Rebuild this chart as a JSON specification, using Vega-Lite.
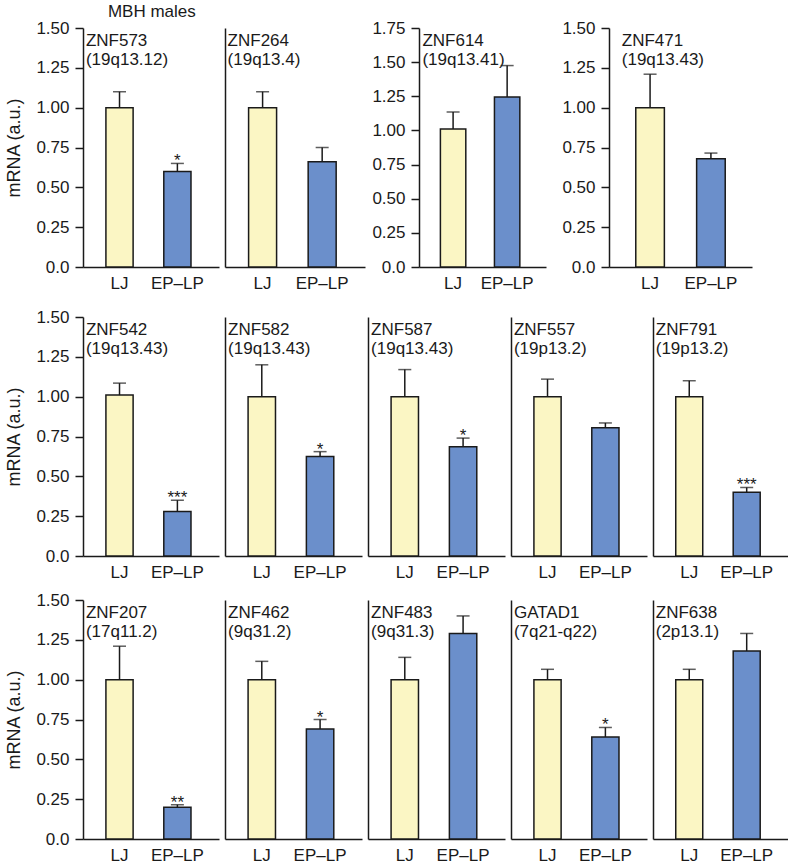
{
  "$schema": "https://vega.github.io/schema/vega-lite/v6.json",
  "padding": {"left": 5, "top": 3, "right": 0, "bottom": 0},
  "title": {"text": "MBH males", "anchor": "start", "frame": "bounds", "dx": 102, "fontSize": 17, "fontWeight": "normal", "offset": -2, "color": "#1a1a1a", "baseline": "top"},
  "config": {
    "font": "Liberation Sans",
    "view": {"stroke": null},
    "axis": {"domainColor": "#1a1a1a", "domainWidth": 1.5, "tickColor": "#1a1a1a", "tickWidth": 1.5, "labelFontSize": 17, "labelColor": "#1a1a1a", "labelOverlap": false, "titleFontSize": 18, "titleFontWeight": "normal", "titleColor": "#1a1a1a", "grid": false},
    "axisX": {"ticks": false, "labelPadding": 8, "labelAngle": 0, "title": null},
    "axisY": {"tickSize": 8, "labelPadding": 6, "titlePadding": 12},
    "text": {"fontSize": 17, "color": "#1a1a1a"}
  },
  "datasets": {
    "zn": [
      {"gene": "ZNF573", "group": "LJ", "mean": 1.00, "upper": 1.10, "sig": ""},
      {"gene": "ZNF573", "group": "EP–LP", "mean": 0.60, "upper": 0.65, "sig": "*"},
      {"gene": "ZNF264", "group": "LJ", "mean": 1.00, "upper": 1.10, "sig": ""},
      {"gene": "ZNF264", "group": "EP–LP", "mean": 0.66, "upper": 0.75, "sig": ""},
      {"gene": "ZNF614", "group": "LJ", "mean": 1.01, "upper": 1.135, "sig": ""},
      {"gene": "ZNF614", "group": "EP–LP", "mean": 1.245, "upper": 1.475, "sig": ""},
      {"gene": "ZNF471", "group": "LJ", "mean": 1.00, "upper": 1.21, "sig": ""},
      {"gene": "ZNF471", "group": "EP–LP", "mean": 0.68, "upper": 0.715, "sig": ""},
      {"gene": "ZNF542", "group": "LJ", "mean": 1.01, "upper": 1.085, "sig": ""},
      {"gene": "ZNF542", "group": "EP–LP", "mean": 0.28, "upper": 0.35, "sig": "***"},
      {"gene": "ZNF582", "group": "LJ", "mean": 1.00, "upper": 1.20, "sig": ""},
      {"gene": "ZNF582", "group": "EP–LP", "mean": 0.625, "upper": 0.655, "sig": "*"},
      {"gene": "ZNF587", "group": "LJ", "mean": 1.00, "upper": 1.17, "sig": ""},
      {"gene": "ZNF587", "group": "EP–LP", "mean": 0.685, "upper": 0.74, "sig": "*"},
      {"gene": "ZNF557", "group": "LJ", "mean": 1.00, "upper": 1.11, "sig": ""},
      {"gene": "ZNF557", "group": "EP–LP", "mean": 0.805, "upper": 0.835, "sig": ""},
      {"gene": "ZNF791", "group": "LJ", "mean": 1.00, "upper": 1.10, "sig": ""},
      {"gene": "ZNF791", "group": "EP–LP", "mean": 0.40, "upper": 0.43, "sig": "***"},
      {"gene": "ZNF207", "group": "LJ", "mean": 1.00, "upper": 1.21, "sig": ""},
      {"gene": "ZNF207", "group": "EP–LP", "mean": 0.20, "upper": 0.215, "sig": "**"},
      {"gene": "ZNF462", "group": "LJ", "mean": 1.00, "upper": 1.115, "sig": ""},
      {"gene": "ZNF462", "group": "EP–LP", "mean": 0.69, "upper": 0.75, "sig": "*"},
      {"gene": "ZNF483", "group": "LJ", "mean": 1.00, "upper": 1.14, "sig": ""},
      {"gene": "ZNF483", "group": "EP–LP", "mean": 1.29, "upper": 1.40, "sig": ""},
      {"gene": "GATAD1", "group": "LJ", "mean": 1.00, "upper": 1.065, "sig": ""},
      {"gene": "GATAD1", "group": "EP–LP", "mean": 0.64, "upper": 0.70, "sig": "*"},
      {"gene": "ZNF638", "group": "LJ", "mean": 1.00, "upper": 1.065, "sig": ""},
      {"gene": "ZNF638", "group": "EP–LP", "mean": 1.18, "upper": 1.29, "sig": ""}
    ]
  },
  "spacing": 17,
  "vconcat": [
    {
      "spacing": 15,
      "hconcat": [
        {
          "spacing": 6,
          "hconcat": [
            {
              "width": 136, "height": 239,
              "data": {"name": "zn"},
              "transform": [{"filter": "datum.gene === 'ZNF573'"}],
              "encoding": {"x": {"field": "group", "type": "nominal", "sort": ["LJ", "EP–LP"], "scale": {"paddingInner": 0.53, "paddingOuter": 0.44, "align": 0.45}}},
              "layer": [
                {"mark": {"type": "bar", "stroke": "#1a1a1a", "strokeWidth": 1.5}, "encoding": {"y": {"field": "mean", "type": "quantitative", "title": "mRNA (a.u.)", "scale": {"domain": [0, 1.5], "nice": false}, "axis": {"values": [0, 0.25, 0.5, 0.75, 1, 1.25, 1.5], "tickCount": 10, "labelOverlap": false, "labelExpr": "datum.value === 0 ? '0.0' : format(datum.value, '.2f')", "title": "mRNA (a.u.)", "titleFontSize": 18}}, "fill": {"field": "group", "type": "nominal", "scale": {"domain": ["LJ", "EP–LP"], "range": ["#FBF6C4", "#6B8FCB"]}, "legend": null}}},
                {"mark": {"type": "rule", "strokeWidth": 1.5, "color": "#1a1a1a"}, "encoding": {"y": {"field": "mean", "type": "quantitative", "title": "mRNA (a.u.)"}, "y2": {"field": "upper"}}},
                {"mark": {"type": "tick", "size": 13, "thickness": 1.5, "color": "#1a1a1a"}, "encoding": {"y": {"field": "upper", "type": "quantitative", "title": "mRNA (a.u.)"}}},
                {"mark": {"type": "text", "baseline": "alphabetic", "dy": 3}, "encoding": {"y": {"field": "upper", "type": "quantitative", "title": "mRNA (a.u.)"}, "text": {"field": "sig"}}},
                {"transform": [{"filter": "datum.group === 'LJ'"}], "mark": {"type": "text", "text": ["ZNF573", "(19q13.12)"], "align": "left", "baseline": "top", "lineHeight": 19, "dx": -20, "dy": 5}, "encoding": {"x": {"datum": "LJ", "bandPosition": 0}, "y": {"datum": 1.5, "type": "quantitative", "title": "mRNA (a.u.)"}}}
              ]
            },
            {
              "width": 140, "height": 239,
              "data": {"name": "zn"},
              "transform": [{"filter": "datum.gene === 'ZNF264'"}],
              "encoding": {"x": {"field": "group", "type": "nominal", "sort": ["LJ", "EP–LP"], "scale": {"paddingInner": 0.53, "paddingOuter": 0.44, "align": 0.45}}},
              "layer": [
                {"mark": {"type": "bar", "stroke": "#1a1a1a", "strokeWidth": 1.5}, "encoding": {"y": {"field": "mean", "type": "quantitative", "scale": {"domain": [0, 1.5], "nice": false}, "axis": {"labels": false, "ticks": false, "title": null}}, "fill": {"field": "group", "type": "nominal", "scale": {"domain": ["LJ", "EP–LP"], "range": ["#FBF6C4", "#6B8FCB"]}, "legend": null}}},
                {"mark": {"type": "rule", "strokeWidth": 1.5, "color": "#1a1a1a"}, "encoding": {"y": {"field": "mean", "type": "quantitative", "title": null}, "y2": {"field": "upper"}}},
                {"mark": {"type": "tick", "size": 13, "thickness": 1.5, "color": "#1a1a1a"}, "encoding": {"y": {"field": "upper", "type": "quantitative", "title": null}}},
                {"mark": {"type": "text", "baseline": "alphabetic", "dy": 3}, "encoding": {"y": {"field": "upper", "type": "quantitative", "title": null}, "text": {"field": "sig"}}},
                {"transform": [{"filter": "datum.group === 'LJ'"}], "mark": {"type": "text", "text": ["ZNF264", "(19q13.4)"], "align": "left", "baseline": "top", "lineHeight": 19, "dx": -21, "dy": 5}, "encoding": {"x": {"datum": "LJ", "bandPosition": 0}, "y": {"datum": 1.5, "type": "quantitative", "title": null}}}
              ]
            },
            {
              "width": 127, "height": 239,
              "data": {"name": "zn"},
              "transform": [{"filter": "datum.gene === 'ZNF614'"}],
              "encoding": {"x": {"field": "group", "type": "nominal", "sort": ["LJ", "EP–LP"], "scale": {"paddingInner": 0.53, "paddingOuter": 0.44, "align": 0.45}}},
              "layer": [
                {"mark": {"type": "bar", "stroke": "#1a1a1a", "strokeWidth": 1.5}, "encoding": {"y": {"field": "mean", "type": "quantitative", "scale": {"domain": [0, 1.75], "nice": false}, "axis": {"values": [0, 0.25, 0.5, 0.75, 1, 1.25, 1.5, 1.75], "tickCount": 10, "labelOverlap": false, "labelExpr": "datum.value === 0 ? '0.0' : format(datum.value, '.2f')", "title": null}}, "fill": {"field": "group", "type": "nominal", "scale": {"domain": ["LJ", "EP–LP"], "range": ["#FBF6C4", "#6B8FCB"]}, "legend": null}}},
                {"mark": {"type": "rule", "strokeWidth": 1.5, "color": "#1a1a1a"}, "encoding": {"y": {"field": "mean", "type": "quantitative", "title": null}, "y2": {"field": "upper"}}},
                {"mark": {"type": "tick", "size": 13, "thickness": 1.5, "color": "#1a1a1a"}, "encoding": {"y": {"field": "upper", "type": "quantitative", "title": null}}},
                {"mark": {"type": "text", "baseline": "alphabetic", "dy": 3}, "encoding": {"y": {"field": "upper", "type": "quantitative", "title": null}, "text": {"field": "sig"}}},
                {"transform": [{"filter": "datum.group === 'LJ'"}], "mark": {"type": "text", "text": ["ZNF614", "(19q13.41)"], "align": "left", "baseline": "top", "lineHeight": 19, "dx": -18, "dy": 5}, "encoding": {"x": {"datum": "LJ", "bandPosition": 0}, "y": {"datum": 1.75, "type": "quantitative", "title": null}}}
              ]
            }
          ]
        },
        {
          "width": 143, "height": 239,
          "data": {"name": "zn"},
          "transform": [{"filter": "datum.gene === 'ZNF471'"}],
          "encoding": {"x": {"field": "group", "type": "nominal", "sort": ["LJ", "EP–LP"], "scale": {"paddingInner": 0.53, "paddingOuter": 0.44, "align": 0.5}}},
          "layer": [
            {"mark": {"type": "bar", "stroke": "#1a1a1a", "strokeWidth": 1.5}, "encoding": {"y": {"field": "mean", "type": "quantitative", "scale": {"domain": [0, 1.5], "nice": false}, "axis": {"values": [0, 0.25, 0.5, 0.75, 1, 1.25, 1.5], "tickCount": 10, "labelOverlap": false, "labelExpr": "datum.value === 0 ? '0.0' : format(datum.value, '.2f')", "title": null}}, "fill": {"field": "group", "type": "nominal", "scale": {"domain": ["LJ", "EP–LP"], "range": ["#FBF6C4", "#6B8FCB"]}, "legend": null}}},
            {"mark": {"type": "rule", "strokeWidth": 1.5, "color": "#1a1a1a"}, "encoding": {"y": {"field": "mean", "type": "quantitative", "title": null}, "y2": {"field": "upper"}}},
            {"mark": {"type": "tick", "size": 13, "thickness": 1.5, "color": "#1a1a1a"}, "encoding": {"y": {"field": "upper", "type": "quantitative", "title": null}}},
            {"mark": {"type": "text", "baseline": "alphabetic", "dy": 3}, "encoding": {"y": {"field": "upper", "type": "quantitative", "title": null}, "text": {"field": "sig"}}},
            {"transform": [{"filter": "datum.group === 'LJ'"}], "mark": {"type": "text", "text": ["ZNF471", "(19q13.43)"], "align": "left", "baseline": "top", "lineHeight": 19, "dx": -14, "dy": 5}, "encoding": {"x": {"datum": "LJ", "bandPosition": 0}, "y": {"datum": 1.5, "type": "quantitative", "title": null}}}
          ]
        }
      ]
    },
    {
      "spacing": 11,
      "vconcat": [
        {
          "spacing": 6,
          "hconcat": [
            {
              "width": 136, "height": 239,
              "data": {"name": "zn"},
              "transform": [{"filter": "datum.gene === 'ZNF542'"}],
              "encoding": {"x": {"field": "group", "type": "nominal", "sort": ["LJ", "EP–LP"], "scale": {"paddingInner": 0.53, "paddingOuter": 0.44, "align": 0.45}}},
              "layer": [
                {"mark": {"type": "bar", "stroke": "#1a1a1a", "strokeWidth": 1.5}, "encoding": {"y": {"field": "mean", "type": "quantitative", "title": "mRNA (a.u.)", "scale": {"domain": [0, 1.5], "nice": false}, "axis": {"values": [0, 0.25, 0.5, 0.75, 1, 1.25, 1.5], "tickCount": 10, "labelOverlap": false, "labelExpr": "datum.value === 0 ? '0.0' : format(datum.value, '.2f')", "title": "mRNA (a.u.)", "titleFontSize": 18}}, "fill": {"field": "group", "type": "nominal", "scale": {"domain": ["LJ", "EP–LP"], "range": ["#FBF6C4", "#6B8FCB"]}, "legend": null}}},
                {"mark": {"type": "rule", "strokeWidth": 1.5, "color": "#1a1a1a"}, "encoding": {"y": {"field": "mean", "type": "quantitative", "title": "mRNA (a.u.)"}, "y2": {"field": "upper"}}},
                {"mark": {"type": "tick", "size": 13, "thickness": 1.5, "color": "#1a1a1a"}, "encoding": {"y": {"field": "upper", "type": "quantitative", "title": "mRNA (a.u.)"}}},
                {"mark": {"type": "text", "baseline": "alphabetic", "dy": 3}, "encoding": {"y": {"field": "upper", "type": "quantitative", "title": "mRNA (a.u.)"}, "text": {"field": "sig"}}},
                {"transform": [{"filter": "datum.group === 'LJ'"}], "mark": {"type": "text", "text": ["ZNF542", "(19q13.43)"], "align": "left", "baseline": "top", "lineHeight": 19, "dx": -20, "dy": 5}, "encoding": {"x": {"datum": "LJ", "bandPosition": 0}, "y": {"datum": 1.5, "type": "quantitative", "title": "mRNA (a.u.)"}}}
              ]
            },
            {
              "width": 137, "height": 239,
              "data": {"name": "zn"},
              "transform": [{"filter": "datum.gene === 'ZNF582'"}],
              "encoding": {"x": {"field": "group", "type": "nominal", "sort": ["LJ", "EP–LP"], "scale": {"paddingInner": 0.53, "paddingOuter": 0.44, "align": 0.45}}},
              "layer": [
                {"mark": {"type": "bar", "stroke": "#1a1a1a", "strokeWidth": 1.5}, "encoding": {"y": {"field": "mean", "type": "quantitative", "scale": {"domain": [0, 1.5], "nice": false}, "axis": {"labels": false, "ticks": false, "title": null}}, "fill": {"field": "group", "type": "nominal", "scale": {"domain": ["LJ", "EP–LP"], "range": ["#FBF6C4", "#6B8FCB"]}, "legend": null}}},
                {"mark": {"type": "rule", "strokeWidth": 1.5, "color": "#1a1a1a"}, "encoding": {"y": {"field": "mean", "type": "quantitative", "title": null}, "y2": {"field": "upper"}}},
                {"mark": {"type": "tick", "size": 13, "thickness": 1.5, "color": "#1a1a1a"}, "encoding": {"y": {"field": "upper", "type": "quantitative", "title": null}}},
                {"mark": {"type": "text", "baseline": "alphabetic", "dy": 3}, "encoding": {"y": {"field": "upper", "type": "quantitative", "title": null}, "text": {"field": "sig"}}},
                {"transform": [{"filter": "datum.group === 'LJ'"}], "mark": {"type": "text", "text": ["ZNF582", "(19q13.43)"], "align": "left", "baseline": "top", "lineHeight": 19, "dx": -20, "dy": 5}, "encoding": {"x": {"datum": "LJ", "bandPosition": 0}, "y": {"datum": 1.5, "type": "quantitative", "title": null}}}
              ]
            },
            {
              "width": 137, "height": 239,
              "data": {"name": "zn"},
              "transform": [{"filter": "datum.gene === 'ZNF587'"}],
              "encoding": {"x": {"field": "group", "type": "nominal", "sort": ["LJ", "EP–LP"], "scale": {"paddingInner": 0.53, "paddingOuter": 0.44, "align": 0.45}}},
              "layer": [
                {"mark": {"type": "bar", "stroke": "#1a1a1a", "strokeWidth": 1.5}, "encoding": {"y": {"field": "mean", "type": "quantitative", "scale": {"domain": [0, 1.5], "nice": false}, "axis": {"labels": false, "ticks": false, "title": null}}, "fill": {"field": "group", "type": "nominal", "scale": {"domain": ["LJ", "EP–LP"], "range": ["#FBF6C4", "#6B8FCB"]}, "legend": null}}},
                {"mark": {"type": "rule", "strokeWidth": 1.5, "color": "#1a1a1a"}, "encoding": {"y": {"field": "mean", "type": "quantitative", "title": null}, "y2": {"field": "upper"}}},
                {"mark": {"type": "tick", "size": 13, "thickness": 1.5, "color": "#1a1a1a"}, "encoding": {"y": {"field": "upper", "type": "quantitative", "title": null}}},
                {"mark": {"type": "text", "baseline": "alphabetic", "dy": 3}, "encoding": {"y": {"field": "upper", "type": "quantitative", "title": null}, "text": {"field": "sig"}}},
                {"transform": [{"filter": "datum.group === 'LJ'"}], "mark": {"type": "text", "text": ["ZNF587", "(19q13.43)"], "align": "left", "baseline": "top", "lineHeight": 19, "dx": -20, "dy": 5}, "encoding": {"x": {"datum": "LJ", "bandPosition": 0}, "y": {"datum": 1.5, "type": "quantitative", "title": null}}}
              ]
            },
            {
              "width": 136, "height": 239,
              "data": {"name": "zn"},
              "transform": [{"filter": "datum.gene === 'ZNF557'"}],
              "encoding": {"x": {"field": "group", "type": "nominal", "sort": ["LJ", "EP–LP"], "scale": {"paddingInner": 0.53, "paddingOuter": 0.44, "align": 0.45}}},
              "layer": [
                {"mark": {"type": "bar", "stroke": "#1a1a1a", "strokeWidth": 1.5}, "encoding": {"y": {"field": "mean", "type": "quantitative", "scale": {"domain": [0, 1.5], "nice": false}, "axis": {"labels": false, "ticks": false, "title": null}}, "fill": {"field": "group", "type": "nominal", "scale": {"domain": ["LJ", "EP–LP"], "range": ["#FBF6C4", "#6B8FCB"]}, "legend": null}}},
                {"mark": {"type": "rule", "strokeWidth": 1.5, "color": "#1a1a1a"}, "encoding": {"y": {"field": "mean", "type": "quantitative", "title": null}, "y2": {"field": "upper"}}},
                {"mark": {"type": "tick", "size": 13, "thickness": 1.5, "color": "#1a1a1a"}, "encoding": {"y": {"field": "upper", "type": "quantitative", "title": null}}},
                {"mark": {"type": "text", "baseline": "alphabetic", "dy": 3}, "encoding": {"y": {"field": "upper", "type": "quantitative", "title": null}, "text": {"field": "sig"}}},
                {"transform": [{"filter": "datum.group === 'LJ'"}], "mark": {"type": "text", "text": ["ZNF557", "(19p13.2)"], "align": "left", "baseline": "top", "lineHeight": 19, "dx": -20, "dy": 5}, "encoding": {"x": {"datum": "LJ", "bandPosition": 0}, "y": {"datum": 1.5, "type": "quantitative", "title": null}}}
              ]
            },
            {
              "width": 135, "height": 239,
              "data": {"name": "zn"},
              "transform": [{"filter": "datum.gene === 'ZNF791'"}],
              "encoding": {"x": {"field": "group", "type": "nominal", "sort": ["LJ", "EP–LP"], "scale": {"paddingInner": 0.53, "paddingOuter": 0.44, "align": 0.45}}},
              "layer": [
                {"mark": {"type": "bar", "stroke": "#1a1a1a", "strokeWidth": 1.5}, "encoding": {"y": {"field": "mean", "type": "quantitative", "scale": {"domain": [0, 1.5], "nice": false}, "axis": {"labels": false, "ticks": false, "title": null}}, "fill": {"field": "group", "type": "nominal", "scale": {"domain": ["LJ", "EP–LP"], "range": ["#FBF6C4", "#6B8FCB"]}, "legend": null}}},
                {"mark": {"type": "rule", "strokeWidth": 1.5, "color": "#1a1a1a"}, "encoding": {"y": {"field": "mean", "type": "quantitative", "title": null}, "y2": {"field": "upper"}}},
                {"mark": {"type": "tick", "size": 13, "thickness": 1.5, "color": "#1a1a1a"}, "encoding": {"y": {"field": "upper", "type": "quantitative", "title": null}}},
                {"mark": {"type": "text", "baseline": "alphabetic", "dy": 3}, "encoding": {"y": {"field": "upper", "type": "quantitative", "title": null}, "text": {"field": "sig"}}},
                {"transform": [{"filter": "datum.group === 'LJ'"}], "mark": {"type": "text", "text": ["ZNF791", "(19p13.2)"], "align": "left", "baseline": "top", "lineHeight": 19, "dx": -20, "dy": 5}, "encoding": {"x": {"datum": "LJ", "bandPosition": 0}, "y": {"datum": 1.5, "type": "quantitative", "title": null}}}
              ]
            }
          ]
        },
        {
          "spacing": 6,
          "hconcat": [
            {
              "width": 136, "height": 239,
              "data": {"name": "zn"},
              "transform": [{"filter": "datum.gene === 'ZNF207'"}],
              "encoding": {"x": {"field": "group", "type": "nominal", "sort": ["LJ", "EP–LP"], "scale": {"paddingInner": 0.53, "paddingOuter": 0.44, "align": 0.45}}},
              "layer": [
                {"mark": {"type": "bar", "stroke": "#1a1a1a", "strokeWidth": 1.5}, "encoding": {"y": {"field": "mean", "type": "quantitative", "title": "mRNA (a.u.)", "scale": {"domain": [0, 1.5], "nice": false}, "axis": {"values": [0, 0.25, 0.5, 0.75, 1, 1.25, 1.5], "tickCount": 10, "labelOverlap": false, "labelExpr": "datum.value === 0 ? '0.0' : format(datum.value, '.2f')", "title": "mRNA (a.u.)", "titleFontSize": 18}}, "fill": {"field": "group", "type": "nominal", "scale": {"domain": ["LJ", "EP–LP"], "range": ["#FBF6C4", "#6B8FCB"]}, "legend": null}}},
                {"mark": {"type": "rule", "strokeWidth": 1.5, "color": "#1a1a1a"}, "encoding": {"y": {"field": "mean", "type": "quantitative", "title": "mRNA (a.u.)"}, "y2": {"field": "upper"}}},
                {"mark": {"type": "tick", "size": 13, "thickness": 1.5, "color": "#1a1a1a"}, "encoding": {"y": {"field": "upper", "type": "quantitative", "title": "mRNA (a.u.)"}}},
                {"mark": {"type": "text", "baseline": "alphabetic", "dy": 3}, "encoding": {"y": {"field": "upper", "type": "quantitative", "title": "mRNA (a.u.)"}, "text": {"field": "sig"}}},
                {"transform": [{"filter": "datum.group === 'LJ'"}], "mark": {"type": "text", "text": ["ZNF207", "(17q11.2)"], "align": "left", "baseline": "top", "lineHeight": 19, "dx": -20, "dy": 5}, "encoding": {"x": {"datum": "LJ", "bandPosition": 0}, "y": {"datum": 1.5, "type": "quantitative", "title": "mRNA (a.u.)"}}}
              ]
            },
            {
              "width": 137, "height": 239,
              "data": {"name": "zn"},
              "transform": [{"filter": "datum.gene === 'ZNF462'"}],
              "encoding": {"x": {"field": "group", "type": "nominal", "sort": ["LJ", "EP–LP"], "scale": {"paddingInner": 0.53, "paddingOuter": 0.44, "align": 0.45}}},
              "layer": [
                {"mark": {"type": "bar", "stroke": "#1a1a1a", "strokeWidth": 1.5}, "encoding": {"y": {"field": "mean", "type": "quantitative", "scale": {"domain": [0, 1.5], "nice": false}, "axis": {"labels": false, "ticks": false, "title": null}}, "fill": {"field": "group", "type": "nominal", "scale": {"domain": ["LJ", "EP–LP"], "range": ["#FBF6C4", "#6B8FCB"]}, "legend": null}}},
                {"mark": {"type": "rule", "strokeWidth": 1.5, "color": "#1a1a1a"}, "encoding": {"y": {"field": "mean", "type": "quantitative", "title": null}, "y2": {"field": "upper"}}},
                {"mark": {"type": "tick", "size": 13, "thickness": 1.5, "color": "#1a1a1a"}, "encoding": {"y": {"field": "upper", "type": "quantitative", "title": null}}},
                {"mark": {"type": "text", "baseline": "alphabetic", "dy": 3}, "encoding": {"y": {"field": "upper", "type": "quantitative", "title": null}, "text": {"field": "sig"}}},
                {"transform": [{"filter": "datum.group === 'LJ'"}], "mark": {"type": "text", "text": ["ZNF462", "(9q31.2)"], "align": "left", "baseline": "top", "lineHeight": 19, "dx": -20, "dy": 5}, "encoding": {"x": {"datum": "LJ", "bandPosition": 0}, "y": {"datum": 1.5, "type": "quantitative", "title": null}}}
              ]
            },
            {
              "width": 137, "height": 239,
              "data": {"name": "zn"},
              "transform": [{"filter": "datum.gene === 'ZNF483'"}],
              "encoding": {"x": {"field": "group", "type": "nominal", "sort": ["LJ", "EP–LP"], "scale": {"paddingInner": 0.53, "paddingOuter": 0.44, "align": 0.45}}},
              "layer": [
                {"mark": {"type": "bar", "stroke": "#1a1a1a", "strokeWidth": 1.5}, "encoding": {"y": {"field": "mean", "type": "quantitative", "scale": {"domain": [0, 1.5], "nice": false}, "axis": {"labels": false, "ticks": false, "title": null}}, "fill": {"field": "group", "type": "nominal", "scale": {"domain": ["LJ", "EP–LP"], "range": ["#FBF6C4", "#6B8FCB"]}, "legend": null}}},
                {"mark": {"type": "rule", "strokeWidth": 1.5, "color": "#1a1a1a"}, "encoding": {"y": {"field": "mean", "type": "quantitative", "title": null}, "y2": {"field": "upper"}}},
                {"mark": {"type": "tick", "size": 13, "thickness": 1.5, "color": "#1a1a1a"}, "encoding": {"y": {"field": "upper", "type": "quantitative", "title": null}}},
                {"mark": {"type": "text", "baseline": "alphabetic", "dy": 3}, "encoding": {"y": {"field": "upper", "type": "quantitative", "title": null}, "text": {"field": "sig"}}},
                {"transform": [{"filter": "datum.group === 'LJ'"}], "mark": {"type": "text", "text": ["ZNF483", "(9q31.3)"], "align": "left", "baseline": "top", "lineHeight": 19, "dx": -20, "dy": 5}, "encoding": {"x": {"datum": "LJ", "bandPosition": 0}, "y": {"datum": 1.5, "type": "quantitative", "title": null}}}
              ]
            },
            {
              "width": 136, "height": 239,
              "data": {"name": "zn"},
              "transform": [{"filter": "datum.gene === 'GATAD1'"}],
              "encoding": {"x": {"field": "group", "type": "nominal", "sort": ["LJ", "EP–LP"], "scale": {"paddingInner": 0.53, "paddingOuter": 0.44, "align": 0.45}}},
              "layer": [
                {"mark": {"type": "bar", "stroke": "#1a1a1a", "strokeWidth": 1.5}, "encoding": {"y": {"field": "mean", "type": "quantitative", "scale": {"domain": [0, 1.5], "nice": false}, "axis": {"labels": false, "ticks": false, "title": null}}, "fill": {"field": "group", "type": "nominal", "scale": {"domain": ["LJ", "EP–LP"], "range": ["#FBF6C4", "#6B8FCB"]}, "legend": null}}},
                {"mark": {"type": "rule", "strokeWidth": 1.5, "color": "#1a1a1a"}, "encoding": {"y": {"field": "mean", "type": "quantitative", "title": null}, "y2": {"field": "upper"}}},
                {"mark": {"type": "tick", "size": 13, "thickness": 1.5, "color": "#1a1a1a"}, "encoding": {"y": {"field": "upper", "type": "quantitative", "title": null}}},
                {"mark": {"type": "text", "baseline": "alphabetic", "dy": 3}, "encoding": {"y": {"field": "upper", "type": "quantitative", "title": null}, "text": {"field": "sig"}}},
                {"transform": [{"filter": "datum.group === 'LJ'"}], "mark": {"type": "text", "text": ["GATAD1", "(7q21-q22)"], "align": "left", "baseline": "top", "lineHeight": 19, "dx": -20, "dy": 5}, "encoding": {"x": {"datum": "LJ", "bandPosition": 0}, "y": {"datum": 1.5, "type": "quantitative", "title": null}}}
              ]
            },
            {
              "width": 135, "height": 239,
              "data": {"name": "zn"},
              "transform": [{"filter": "datum.gene === 'ZNF638'"}],
              "encoding": {"x": {"field": "group", "type": "nominal", "sort": ["LJ", "EP–LP"], "scale": {"paddingInner": 0.53, "paddingOuter": 0.44, "align": 0.45}}},
              "layer": [
                {"mark": {"type": "bar", "stroke": "#1a1a1a", "strokeWidth": 1.5}, "encoding": {"y": {"field": "mean", "type": "quantitative", "scale": {"domain": [0, 1.5], "nice": false}, "axis": {"labels": false, "ticks": false, "title": null}}, "fill": {"field": "group", "type": "nominal", "scale": {"domain": ["LJ", "EP–LP"], "range": ["#FBF6C4", "#6B8FCB"]}, "legend": null}}},
                {"mark": {"type": "rule", "strokeWidth": 1.5, "color": "#1a1a1a"}, "encoding": {"y": {"field": "mean", "type": "quantitative", "title": null}, "y2": {"field": "upper"}}},
                {"mark": {"type": "tick", "size": 13, "thickness": 1.5, "color": "#1a1a1a"}, "encoding": {"y": {"field": "upper", "type": "quantitative", "title": null}}},
                {"mark": {"type": "text", "baseline": "alphabetic", "dy": 3}, "encoding": {"y": {"field": "upper", "type": "quantitative", "title": null}, "text": {"field": "sig"}}},
                {"transform": [{"filter": "datum.group === 'LJ'"}], "mark": {"type": "text", "text": ["ZNF638", "(2p13.1)"], "align": "left", "baseline": "top", "lineHeight": 19, "dx": -20, "dy": 5}, "encoding": {"x": {"datum": "LJ", "bandPosition": 0}, "y": {"datum": 1.5, "type": "quantitative", "title": null}}}
              ]
            }
          ]
        }
      ]
    }
  ]
}
